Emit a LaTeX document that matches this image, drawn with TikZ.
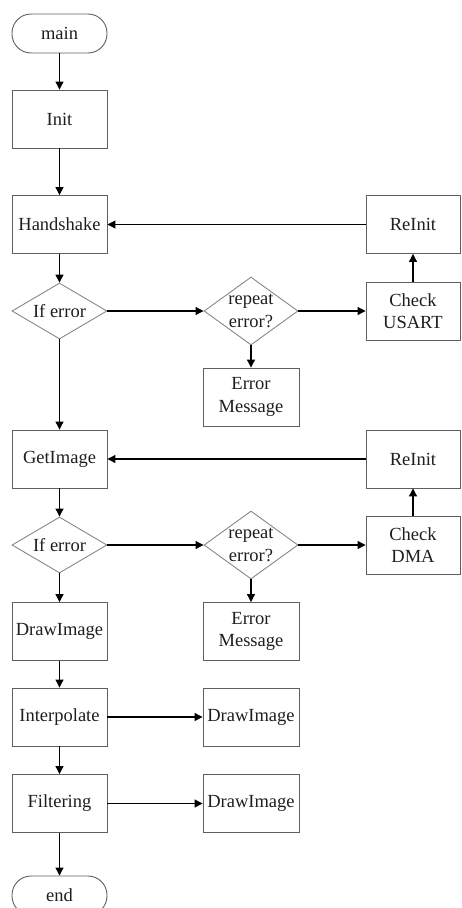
\documentclass[tikz,border=0pt]{standalone}
\usepackage{fontspec}
\setmainfont{Liberation Serif}
\usetikzlibrary{shapes.geometric,arrows.meta}
\definecolor{boxline}{RGB}{95,95,95}
\definecolor{diamline}{RGB}{135,135,135}
\definecolor{txt}{RGB}{30,30,30}
\begin{document}
\begin{tikzpicture}[x=1pt,y=-1pt,
  every node/.style={font=\fontsize{18.5}{22.5}\selectfont, text=txt, align=center},
  proc/.style={draw=boxline, line width=0.9pt, minimum width=95pt, minimum height=58pt, inner sep=0pt},
  term/.style={draw=boxline, line width=0.9pt, minimum width=95pt, minimum height=39pt, rounded corners=19pt, inner sep=0pt},
  dec/.style={draw=diamline, line width=0.9pt, shape=diamond, inner sep=-12pt, minimum width=95pt, minimum height=56pt},
  dec2/.style={draw=diamline, line width=0.9pt, shape=diamond, inner sep=-14pt, minimum width=94pt, minimum height=68pt},
  arr/.style={draw=black, line width=1.1pt, -{Triangle[length=8pt,width=8pt]}}
]
\useasboundingbox (0,0) rectangle (461,908);
% left column
\node[term] (main) at (59.5,33.5) {main};
\node[proc] (init) at (59.5,119) {Init};
\node[proc] (hand) at (59.5,224.5) {Handshake};
\node[dec]  (if1) at (59.5,311) {If error};
\node[proc] (get) at (59.5,459) {GetImage};
\node[dec]  (if2) at (59.5,545) {If error};
\node[proc] (draw1) at (59.5,631.5) {DrawImage};
\node[proc] (interp) at (59.5,717) {Interpolate};
\node[proc] (filt) at (59.5,803.5) {Filtering};
\node[term] (end) at (59.5,895.5) {end};
% middle column
\node[dec2] (rep1) at (251,311) {repeat\\error?};
\node[proc, minimum width=96pt] (err1) at (251,397) {Error\\Message};
\node[dec2] (rep2) at (251,545) {repeat\\error?};
\node[proc, minimum width=96pt] (err2) at (251,631.5) {Error\\Message};
\node[proc, minimum width=96pt] (draw2) at (251,717) {DrawImage};
\node[proc, minimum width=96pt] (draw3) at (251,803.5) {DrawImage};
% right column
\node[proc, minimum width=94pt] (reinit1) at (413,224.5) {ReInit};
\node[proc, minimum width=94pt] (chk1) at (413,311) {Check\\USART};
\node[proc, minimum width=94pt] (reinit2) at (413,459) {ReInit};
\node[proc, minimum width=94pt] (chk2) at (413,545) {Check\\DMA};
% connectors
\draw[arr] (main) -- (init);
\draw[arr] (init) -- (hand);
\draw[arr] (hand) -- (if1);
\draw[arr] (if1) -- (rep1);
\draw[arr] (rep1) -- (chk1);
\draw[arr] (chk1) -- (reinit1);
\draw[arr] (reinit1) -- (hand);
\draw[arr] (rep1) -- (err1);
\draw[arr] (if1) -- (get);
\draw[arr] (get) -- (if2);
\draw[arr] (if2) -- (rep2);
\draw[arr] (rep2) -- (chk2);
\draw[arr] (chk2) -- (reinit2);
\draw[arr] (reinit2) -- (get);
\draw[arr] (rep2) -- (err2);
\draw[arr] (if2) -- (draw1);
\draw[arr] (draw1) -- (interp);
\draw[arr] (interp) -- (draw2);
\draw[arr] (interp) -- (filt);
\draw[arr] (filt) -- (draw3);
\draw[arr] (filt) -- (end);
\end{tikzpicture}
\end{document}
